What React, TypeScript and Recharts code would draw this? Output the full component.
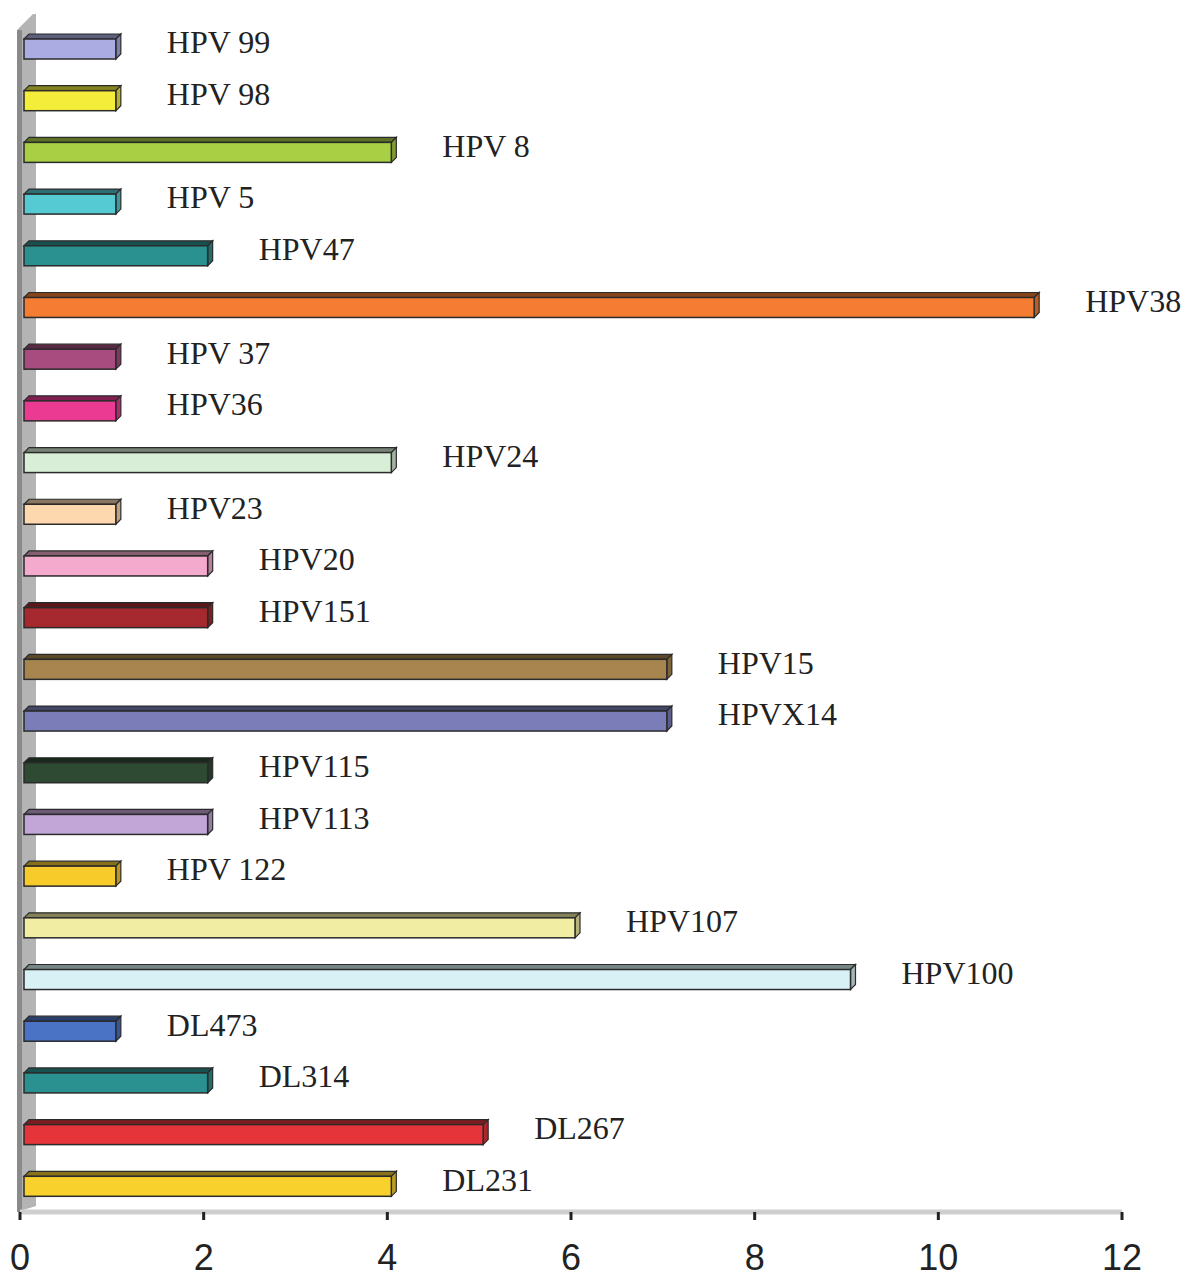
import { BarChart, Bar, XAxis, YAxis, Cell, LabelList } from 'recharts';

const categories = [
  'HPV 99', 'HPV 98', 'HPV 8', 'HPV 5', 'HPV47', 'HPV38', 'HPV 37', 'HPV36',
  'HPV24', 'HPV23', 'HPV20', 'HPV151', 'HPV15', 'HPVX14', 'HPV115', 'HPV113',
  'HPV 122', 'HPV107', 'HPV100', 'DL473', 'DL314', 'DL267', 'DL231',
];

const counts = [1, 1, 4, 1, 2, 11, 1, 1, 4, 1, 2, 2, 7, 7, 2, 2, 1, 6, 9, 1, 2, 5, 4];

const barColors = [
  '#abace2', '#f4ee3a', '#a9cf45', '#55cad2', '#2a9190', '#f47c33', '#a84b7e', '#ea3a92',
  '#d8eed6', '#fdd7ae', '#f4aacd', '#a5292f', '#a8854f', '#7a7db7', '#2e4a33', '#c2a6d8',
  '#f6cb2a', '#f1eda2', '#d8f1f5', '#4a73c6', '#2a9190', '#e5343a', '#f8d12c',
];

const xTicks = [0, 2, 4, 6, 8, 10, 12];

const data = categories.map((name, i) => ({ name, value: counts[i] }));

const shade = (hex: string, f: number) => {
  const n = parseInt(hex.slice(1), 16);
  const r = Math.round(((n >> 16) & 255) * f);
  const g = Math.round(((n >> 8) & 255) * f);
  const b = Math.round((n & 255) * f);
  return `rgb(${r},${g},${b})`;
};

const Bar3D = (props: any) => {
  const { x, y, width, height, fill } = props;
  const d = 5;
  const x0 = x + 4;
  const x1 = x + width + 4;
  const stroke = '#2b2b2b';
  return (
    <g>
      <polygon
        points={`${x0},${y} ${x0 + d},${y - d} ${x1 + d},${y - d} ${x1},${y}`}
        fill={shade(fill, 0.55)}
        stroke={stroke}
        strokeWidth={1.2}
      />
      <polygon
        points={`${x1},${y} ${x1 + d},${y - d} ${x1 + d},${y + height - d} ${x1},${y + height}`}
        fill={shade(fill, 0.75)}
        stroke={stroke}
        strokeWidth={1.2}
      />
      <rect x={x0} y={y} width={width} height={height} fill={fill} stroke={stroke} strokeWidth={1.5} />
    </g>
  );
};

const BarLabel = (props: any) => {
  const { x, y, width, height, value } = props;
  return (
    <text
      x={x + width + 55}
      y={y + height / 2 - 3}
      dominantBaseline="middle"
      fontFamily="'Liberation Serif', 'Times New Roman', serif"
      fontSize={32}
      fill="#222"
    >
      {value}
    </text>
  );
};

export default function App() {
  return (
    <div style={{ position: 'absolute', left: 0, top: 0, width: 1200, height: 1288, background: '#fff' }}>
      <svg width={1200} height={1288} style={{ position: 'absolute', left: 0, top: 0 }}>
        <polygon points="17,30 33,14 36,14 36,1206 17,1212" fill="#b4b4b4" />
        <rect x={17} y={30} width={5} height={1182} fill="#8a8a8a" />
      </svg>
      <div style={{ position: 'absolute', left: 0, top: 0 }}>
        <BarChart
          width={1200}
          height={1288}
          data={data}
          layout="vertical"
          margin={{ top: 23, right: 78, bottom: 46, left: 20 }}
          barCategoryGap={0}
        >
          <XAxis
            type="number"
            domain={[0, 12]}
            ticks={xTicks}
            interval={0}
            height={30}
            axisLine={{ stroke: '#cfcfcf', strokeWidth: 5 }}
            tickLine={{ stroke: '#222', strokeWidth: 3 }}
            tickSize={8}
            tickMargin={24}
            tick={{ fill: '#222', fontSize: 36, fontFamily: "'Liberation Sans', Arial, sans-serif" }}
          />
          <YAxis type="category" dataKey="name" hide />
          <Bar dataKey="value" barSize={20} shape={Bar3D} isAnimationActive={false}>
            {data.map((d, i) => (
              <Cell key={d.name} fill={barColors[i]} />
            ))}
            <LabelList dataKey="name" content={BarLabel} />
          </Bar>
        </BarChart>
      </div>
    </div>
  );
}
